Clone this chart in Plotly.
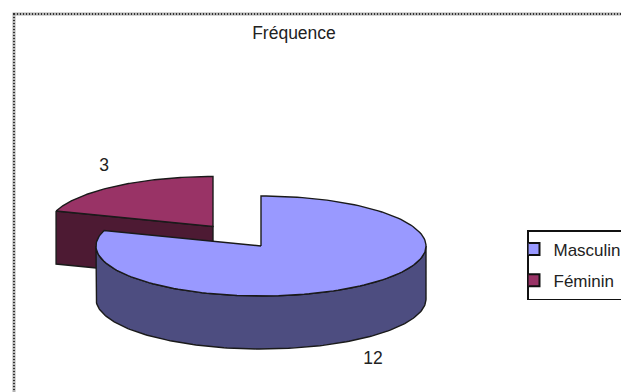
import numpy as np
import plotly.graph_objects as go

title = "Fréquence"
categories = ["Masculin", "Féminin"]
values = [12, 3]
top_colors = ["#9999FF", "#993366"]
side_colors = ["#4D4D80", "#4D1A33"]

W, H = 621, 392
RX, RY, DEPTH = 165, 50, 53
CENTERS = [(261, 246), (213, 226.5)]   # second slice is pulled out of the pie
LABEL_SHIFT = [(15, 20), (-12, -19)]
LINE = "#1a1a1a"
FONT = "Liberation Sans, Arial, sans-serif"

total = sum(values)
fractions = np.cumsum([0] + values) / total * 2 * np.pi


def arc(cx, cy, a0, a1, dz=0, n=160):
    t = np.linspace(a0, a1, n)
    return cx + RX * np.sin(t), cy - RY * np.cos(t) + dz


def poly(x, y, fill, name):
    return go.Scatter(x=list(x), y=list(y), mode="lines", fill="toself", fillcolor=fill,
                      line=dict(color=LINE, width=1.4), hoverinfo="skip", showlegend=False, name=name)


fig = go.Figure()

# Slice geometry, everything is derived from the values
a0, a1 = fractions[1], fractions[2]
cx, cy = CENTERS[1]
ax, ay = arc(cx, cy, a0, a1)
# cut face of the small slice, facing the viewer
fig.add_trace(poly([ax[0], cx, cx, ax[0], ax[0]],
                   [ay[0], cy, cy + DEPTH, ay[0] + DEPTH, ay[0]], side_colors[1], categories[1]))
fig.add_trace(poly(list(ax) + [cx, ax[0]], list(ay) + [cy, ay[0]], top_colors[1], categories[1]))

a0, a1 = fractions[0], fractions[1]
cx, cy = CENTERS[0]
# outer wall of the large slice: only the part that faces the viewer
sx, sy = arc(cx, cy, np.pi / 2, np.pi * 1.5)
fig.add_trace(poly(list(sx) + list(sx[::-1]) + [sx[0]],
                   list(sy) + list(sy[::-1] + DEPTH) + [sy[0]], side_colors[0], categories[0]))
ax, ay = arc(cx, cy, a0, a1)
fig.add_trace(poly([cx] + list(ax) + [cx], [cy] + list(ay) + [cy], top_colors[0], categories[0]))

# Value labels
lx, ly = [], []
for i in range(2):
    mid = (fractions[i] + fractions[i + 1]) / 2
    x, y = arc(CENTERS[i][0], CENTERS[i][1], mid, mid, n=1)
    wall = DEPTH if np.cos(mid) < 0 else 0
    lx.append(x[0] + LABEL_SHIFT[i][0])
    ly.append(y[0] + wall + LABEL_SHIFT[i][1])
fig.add_trace(go.Scatter(x=lx, y=ly, mode="text", text=[str(v) for v in values],
                         textposition="middle center", textfont=dict(family=FONT, size=17.5, color="#222222"),
                         hoverinfo="skip", showlegend=False))

# Legend entries
for name, color in zip(categories, top_colors):
    fig.add_trace(go.Scatter(x=[None], y=[None], mode="markers", name=name, legendgroup=name,
                             marker=dict(symbol="square", size=10, color=color, line=dict(color="#111111", width=1.5))))

fig.update_layout(
    width=W, height=H, autosize=False,
    margin=dict(l=0, r=0, t=0, b=0, autoexpand=False),
    paper_bgcolor="white", plot_bgcolor="white",
    title=dict(text=title, x=294 / W, xanchor="center", y=1 - 33 / H, yanchor="middle",
               font=dict(family=FONT, size=17.5, color="#222222")),
    xaxis=dict(range=[0, W], visible=False, fixedrange=True),
    yaxis=dict(range=[H, 0], visible=False, fixedrange=True),
    legend=dict(x=527 / W, xanchor="left", y=1 - 230 / H, yanchor="top", bordercolor="#111111", borderwidth=1.5,
                bgcolor="white", indentation=-15, traceorder="grouped", itemsizing="constant",
                font=dict(family=FONT, size=17, color="#222222"), tracegroupgap=6),
    shapes=[
        dict(type="rect", xref="x", yref="y", x0=14, y0=14, x1=W + 50, y1=H + 50,
             line=dict(color="#b0b0b0", width=3), layer="below"),
        dict(type="rect", xref="x", yref="y", x0=14, y0=14, x1=W + 50, y1=H + 50,
             line=dict(color="#333333", width=2, dash="1px,2px"), layer="below"),
    ],
)

fig.write_html("out.html", config=dict(displayModeBar=False),
               post_script="document.body.style.margin='0';document.body.style.overflow='hidden';")
